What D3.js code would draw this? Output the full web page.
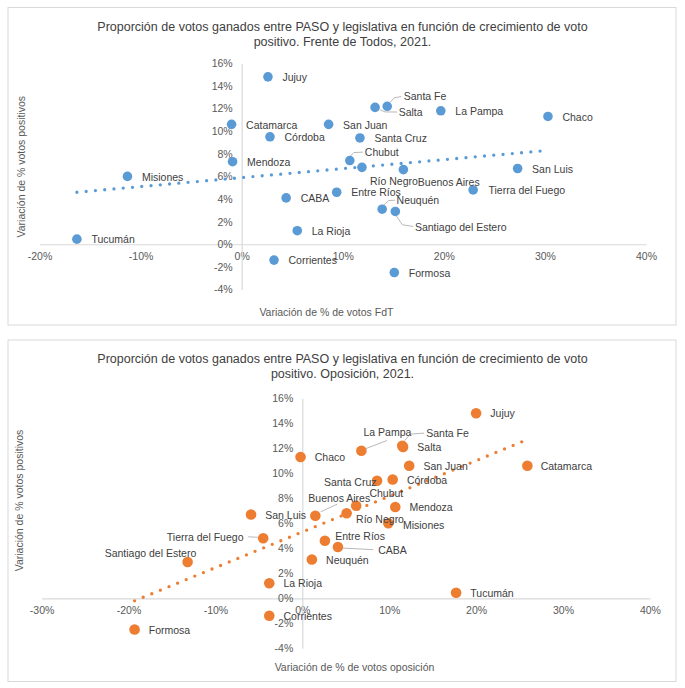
<!DOCTYPE html>
<html>
<head>
<meta charset="utf-8">
<script src="https://cdn.jsdelivr.net/npm/d3@7"></script>
<style>
  html, body { margin: 0; padding: 0; background: #ffffff; }
  svg { display: block; }
  text { font-family: "Liberation Sans", Arial, sans-serif; }
</style>
</head>
<body>
<svg id="chart" width="685" height="688"></svg>
<script>
// ---------------- DATA ----------------
const provinces = ["Jujuy","Tucumán","Misiones","Catamarca","Mendoza","Córdoba","Corrientes","CABA",
  "La Rioja","San Juan","Entre Ríos","Chubut","Santa Cruz","Río Negro","Salta","Santa Fe",
  "Neuquén","Santiago del Estero","Formosa","Buenos Aires","La Pampa","Tierra del Fuego","San Luis","Chaco"];

// Variación de % votos positivos (same for both charts)
const positiveVar = [14.8, 0.45, 6.0, 10.6, 7.3, 9.5, -1.4, 4.1,
  1.2, 10.6, 4.6, 7.4, 9.4, 6.8, 12.1, 12.2,
  3.1, 2.9, -2.5, 6.6, 11.8, 4.8, 6.7, 11.3];

// Variación de % de votos FdT
const fdtVar = [2.6, -16.3, -11.3, -1.0, -0.9, 2.8, 3.2, 4.4,
  5.5, 8.6, 9.4, 10.7, 11.7, 11.9, 13.2, 14.4,
  13.9, 15.2, 15.1, 16.0, 19.7, 22.9, 27.3, 30.3];

// Variación de % de votos oposición
const oppVar = [20.0, 17.7, 9.9, 25.9, 10.7, 10.4, -3.8, 4.1,
  -3.8, 12.3, 2.6, 6.2, 8.6, 5.1, 11.6, 11.5,
  1.1, -13.2, -19.3, 1.5, 6.8, -4.5, -5.9, -0.2];

// Linear trendlines (end points)
const trendFdtX = [-16.3, 30.3];
const trendFdtY = [4.6, 8.3];
const trendOppX = [-19.3, 25.9];
const trendOppY = [-0.2, 12.7];

const xTicksFdt = [-20, -10, 0, 10, 20, 30, 40];
const xTicksOpp = [-30, -20, -10, 0, 10, 20, 30, 40];
const yTicks = [-4, -2, 0, 2, 4, 6, 8, 10, 12, 14, 16];

const titleFdt = ["Proporción de votos ganados entre PASO y legislativa en función de crecimiento de voto",
                  "positivo. Frente de Todos, 2021."];
const titleOpp = ["Proporción de votos ganados entre PASO y legislativa en función de crecimiento de voto",
                  "positivo. Oposición, 2021."];
const yTitle = "Variación de % votos positivos";
const xTitleFdt = "Variación de % de votos FdT";
const xTitleOpp = "Variación de % de votos oposición";

// ---------------- LAYOUT (label placement) ----------------
const labelLayoutFdt = {
  "Santa Fe": {dx: 16.5, dy: -9.7, leader: [[3,-4],[7,-8.5],[14,-9.7]]},
  "Salta": {dx: 23.6, dy: 4.6, leader: [[5,2.5],[10,4.5],[22,4.6]]},
  "Chubut": {dx: 15, dy: -8.3, leader: [[0.7,-4.7],[4,-8],[13,-8.4]]},
  "Río Negro": {dx: 8, dy: 14.3},
  "Buenos Aires": {dx: 14.4, dy: 13},
  "Neuquén": {dx: 14.4, dy: -8.4, leader: [[1.6,-4.3],[6.6,-8.6],[13,-9]]},
  "Santiago del Estero": {dx: 19.6, dy: 15.4, leader: [[1,4.3],[7,13.3],[18,15]]},
  "Tierra del Fuego": {dx: 15.3, dy: 0.5}
};
const labelLayoutOpp = {
  "La Pampa": {dx: 2.1, dy: -18.3, leader: [[4,-2],[25.6,-10.3]]},
  "Santa Fe": {dx: 24, dy: -12.7, leader: [[2.2,-5],[8.2,-11.7],[22,-12.7]]},
  "Santa Cruz": {dx: -0.5, dy: 1.6, anchor: "end"},
  "Chubut": {dx: 13.2, dy: -12},
  "Buenos Aires": {dx: -7, dy: -17.7, leader: [[5.3,-4],[22,-11.7]]},
  "Río Negro": {dx: 9.5, dy: 5.6},
  "Tierra del Fuego": {dx: -19.7, dy: -1, anchor: "end", leader: [[-15,-1.5],[-5.5,-1]]},
  "Entre Ríos": {dx: 10.4, dy: -4},
  "CABA": {dx: 40.3, dy: 3.3, leader: [[4.3,1],[35.3,2.6]]},
  "Santiago del Estero": {dx: 8.7, dy: -9, anchor: "end"},
  "Misiones": {dx: 14.6, dy: 2},
  "Catamarca": {dx: 13.3, dy: 0.5}
};

const svg = d3.select("#chart");

function drawPanel(cfg) {
  const g = svg.append("g");
  g.append("rect")
    .attr("x", cfg.frame[0]).attr("y", cfg.frame[1])
    .attr("width", cfg.frame[2]).attr("height", cfg.frame[3])
    .attr("fill", "#ffffff").attr("stroke", "#d9d9d9").attr("stroke-width", 1);

  const x = d3.scaleLinear().domain(cfg.xDomain).range(cfg.xRange);
  const y = d3.scaleLinear().domain([-4, 16]).range(cfg.yRange);

  // title
  cfg.title.forEach((t, i) => {
    g.append("text").attr("x", 342.5).attr("y", cfg.titleY[i])
      .attr("text-anchor", "middle").attr("dy", "0.35em")
      .attr("font-size", "12.5px").attr("fill", "#404040").text(t);
  });

  // axes
  const xAxis = d3.axisBottom(x).tickValues(cfg.xTicks).tickSize(0).tickPadding(8)
    .tickFormat(d => d + "%");
  const yAxis = d3.axisLeft(y).tickValues(yTicks).tickSize(0).tickPadding(9)
    .tickFormat(d => d + "%");
  const gx = g.append("g").attr("transform", `translate(0,${y(0)})`).call(xAxis);
  const gy = g.append("g").attr("transform", `translate(${x(0)},0)`).call(yAxis);
  [gx, gy].forEach(a => {
    a.select(".domain").attr("stroke", "#d9d9d9").attr("stroke-width", 1.2);
    a.selectAll("text").attr("font-size", "10.5px").attr("fill", "#595959")
      .attr("font-family", "\"Liberation Sans\", Arial, sans-serif");
  });

  // axis titles
  g.append("text").attr("transform", `translate(${cfg.yTitlePos[0]},${cfg.yTitlePos[1]}) rotate(-90)`)
    .attr("text-anchor", "middle").attr("dy", "0.35em")
    .attr("font-size", "10.5px").attr("fill", "#595959").text(yTitle);
  g.append("text").attr("x", cfg.xTitlePos[0]).attr("y", cfg.xTitlePos[1])
    .attr("text-anchor", "middle").attr("dy", "0.35em")
    .attr("font-size", "10.5px").attr("fill", "#595959").text(cfg.xTitle);

  const pts = provinces.map((p, i) => ({name: p, x: cfg.xs[i], y: positiveVar[i]}));

  // points
  g.append("g").selectAll("circle").data(pts).join("circle")
    .attr("cx", d => x(d.x)).attr("cy", d => y(d.y)).attr("r", cfg.r)
    .attr("fill", cfg.color);

  // trendline
  const line = d3.line().x(d => x(d[0])).y(d => y(d[1]));
  g.append("path").datum(cfg.trendX.map((v, i) => [v, cfg.trendY[i]]))
    .attr("d", line).attr("fill", "none").attr("stroke", cfg.color)
    .attr("stroke-width", 3.3).attr("stroke-linecap", "round")
    .attr("stroke-dasharray", "0,9.3");

  // leaders & labels
  pts.forEach(d => {
    const L = cfg.layout[d.name] || {dx: cfg.dx, dy: 0.5};
    const px = x(d.x), py = y(d.y);
    if (L.leader) {
      g.append("path").attr("d", d3.line()(L.leader.map(q => [px + q[0], py + q[1]])))
        .attr("fill", "none").attr("stroke", "#a6a6a6").attr("stroke-width", 0.8);
    }
    g.append("text").attr("x", px + L.dx).attr("y", py + L.dy)
      .attr("dy", "0.35em").attr("text-anchor", L.anchor || "start")
      .attr("font-size", "10.5px").attr("fill", "#404040").text(d.name);
  });
}

drawPanel({
  frame: [8, 7.5, 668, 317.5],
  xDomain: [-20, 40], xRange: [39.5, 646], yRange: [289.5, 63.3],
  xTicks: xTicksFdt, title: titleFdt, titleY: [26.7, 41.7],
  yTitlePos: [21.8, 166.7], xTitlePos: [326.4, 312.7], xTitle: xTitleFdt,
  xs: fdtVar, trendX: trendFdtX, trendY: trendFdtY,
  color: "#5b9bd5", r: 4.8, dx: 14.5, layout: labelLayoutFdt
});

drawPanel({
  frame: [8, 340, 668, 341.5],
  xDomain: [-30, 40], xRange: [41.6, 649.9], yRange: [648.3, 398.3],
  xTicks: xTicksOpp, title: titleOpp, titleY: [358.3, 373.3],
  yTitlePos: [19.7, 500.5], xTitlePos: [354.5, 667.7], xTitle: xTitleOpp,
  xs: oppVar, trendX: trendOppX, trendY: trendOppY,
  color: "#ed7d31", r: 5.3, dx: 14.2, layout: labelLayoutOpp
});
</script>
</body>
</html>
